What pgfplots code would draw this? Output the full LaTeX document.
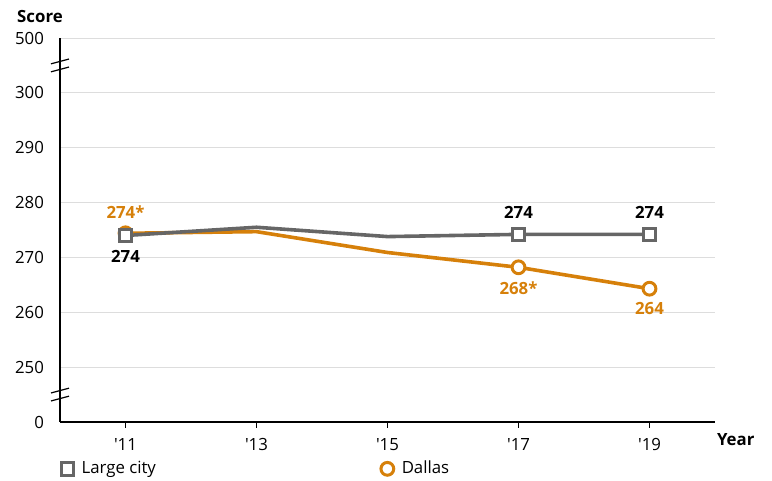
\documentclass[border=0pt]{standalone}
\usepackage{fontspec}
\setmainfont{Open Sans}
\newfontfamily\plainOS{Open Sans}
\usepackage{pgfplots}
\pgfplotsset{compat=1.18}
\definecolor{cgrey}{HTML}{666666}
\definecolor{corange}{HTML}{D6800A}
\definecolor{cgrid}{HTML}{DDDDDD}
\newcommand{\q}{{\plainOS'}}
\newcommand{\fs}{\fontsize{8.4pt}{10pt}\selectfont}
\begin{document}
\begin{tikzpicture}[x=1pt,y=1pt]
\path[use as bounding box] (-30pt,-29.5pt) rectangle (356pt,211pt);
\begin{axis}[
  at={(0,0)}, anchor=south west,
  scale only axis, width=327.5pt, height=192pt,
  xmin=2010, xmax=2020, ymin=240, ymax=310,
  axis lines=left, axis line style={-, line width=0.75pt, black},
  clip=false,
  xtick={2011,2013,2015,2017,2019},
  xticklabels={\q11,\q13,\q15,\q17,\q19},
  ytick={240,250,260,270,280,290,300,310},
  yticklabels={0,250,260,270,280,290,300,500},
  ymajorgrids, grid style={cgrid, line width=0.5pt},
  tick align=outside, major tick length=3pt,
  xtick style={black, line width=0.6pt},
  ytick style={draw=none},
  /pgf/number format/assume math mode=true,
  ticklabel style={font=\fs, black},
  xticklabel style={yshift=-1.5pt},
  yticklabel style={xshift=-1.5pt},
  legend columns=2,
  reverse legend,
  legend style={at={(-0.008,-0.122)}, anchor=west, draw=none, fill=none,
    font=\fs,
    /tikz/every odd column/.append style={column sep=2pt},
    /tikz/every even column/.append style={column sep=110.5pt}},
  legend image code/.code={\draw[#1] plot[only marks] coordinates {(0.15cm,0cm)};},
]
\addplot[corange, line width=1.8pt, mark=*, mark size=3.2pt,
  mark options={fill=white, line width=1.5pt, draw=corange},
  mark indices={1,4,5}]
  coordinates {(2011,274.4) (2013,274.7) (2015,270.9) (2017,268.2) (2019,264.3)};
\addlegendentry{Dallas}
\addplot[cgrey, line width=1.8pt, mark=square*, mark size=3.1pt,
  mark options={fill=white, line width=1.5pt, draw=cgrey},
  mark indices={1,4,5}]
  coordinates {(2011,274.0) (2013,275.5) (2015,273.8) (2017,274.2) (2019,274.2)};
\addlegendentry{Large city}

\begin{scope}[font=\fs\bfseries]
\node[corange] at ([yshift=10.5pt]axis cs:2011,274.4) {274*};
\node[black] at ([yshift=-10.5pt]axis cs:2011,274.0) {274};
\node[black] at ([yshift=11pt]axis cs:2017,274.2) {274};
\node[black] at ([yshift=11pt]axis cs:2019,274.2) {274};
\node[corange] at ([yshift=-10.5pt]axis cs:2017,268.2) {268*};
\node[corange] at ([yshift=-10pt]axis cs:2019,264.3) {264};
\end{scope}

\node[font=\fs\bfseries, anchor=west] at ([xshift=-2.5pt,yshift=-9pt]axis cs:2020,240) {Year};
\node[font=\fs\bfseries] at ([xshift=-10pt,yshift=11pt]axis cs:2010,310) {Score};

\draw[black, line width=0.6pt] ([xshift=-4.5pt,yshift=-3.2pt]axis cs:2010,245) -- ([xshift=4.5pt,yshift=-0.8pt]axis cs:2010,245);
\draw[black, line width=0.6pt] ([xshift=-4.5pt,yshift=0.8pt]axis cs:2010,245) -- ([xshift=4.5pt,yshift=3.2pt]axis cs:2010,245);
\draw[black, line width=0.6pt] ([xshift=-4.5pt,yshift=-3.2pt]axis cs:2010,305) -- ([xshift=4.5pt,yshift=-0.8pt]axis cs:2010,305);
\draw[black, line width=0.6pt] ([xshift=-4.5pt,yshift=0.8pt]axis cs:2010,305) -- ([xshift=4.5pt,yshift=3.2pt]axis cs:2010,305);
\end{axis}
\end{tikzpicture}
\end{document}
